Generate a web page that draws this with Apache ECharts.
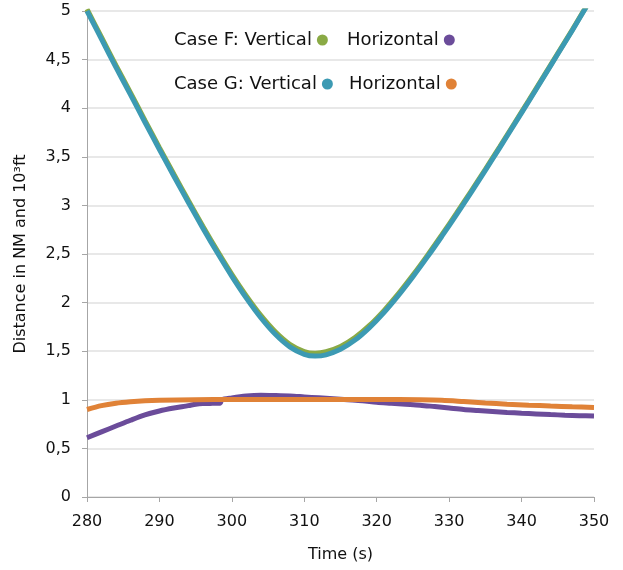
<!DOCTYPE html>
<html>
<head>
<meta charset="utf-8">
<script src="https://cdn.jsdelivr.net/npm/echarts@6/dist/echarts.min.js"></script>
<style>
  html, body { margin: 0; padding: 0; background: #fff; }
  #main { width: 623px; height: 570px; }
</style>
</head>
<body>
<div id="main"></div>
<script>
// time axis (s) for the vertical separation curves
const timeVertical = [280, 282, 284, 286, 288, 290, 292, 294, 296, 298, 300, 302, 304, 306, 308, 310, 311.5,
  313, 315, 317, 319, 321, 323, 325, 327, 329, 331, 333, 335, 337, 339, 341, 343, 345, 347, 349, 350];
const caseFVertical = [5.02, 4.73, 4.44, 4.16, 3.875, 3.595, 3.32, 3.05, 2.786, 2.532, 2.29, 2.068, 1.868, 1.70, 1.572, 1.497, 1.48,
  1.494, 1.548, 1.64, 1.765, 1.918, 2.092, 2.283, 2.486, 2.698, 2.917, 3.143, 3.372, 3.606, 3.843, 4.081, 4.322, 4.564, 4.806, 5.055, 5.17];
const caseGVertical = [5.00, 4.71, 4.42, 4.14, 3.855, 3.575, 3.30, 3.03, 2.766, 2.512, 2.27, 2.046, 1.844, 1.674, 1.545, 1.468, 1.45,
  1.463, 1.519, 1.614, 1.743, 1.898, 2.074, 2.266, 2.47, 2.683, 2.903, 3.13, 3.36, 3.595, 3.833, 4.072, 4.314, 4.557, 4.80, 5.05, 5.17];

// horizontal separation
const timeFHorizontal = [280, 282, 284, 286, 288, 290, 292, 294, 295, 296, 297, 298, 298.4, 298.6, 300, 302, 304, 306, 308, 310,
  312, 314, 316, 318, 320, 322, 324, 326, 328, 330, 332, 334, 336, 338, 340, 342, 344, 346, 348, 350];
const caseFHorizontal = [0.61, 0.67, 0.73, 0.79, 0.845, 0.885, 0.915, 0.94, 0.955, 0.962, 0.963, 0.964, 0.966, 1.0, 1.02, 1.04, 1.048, 1.045, 1.04, 1.03,
  1.02, 1.01, 1.0, 0.99, 0.975, 0.965, 0.955, 0.945, 0.93, 0.915, 0.9, 0.89, 0.88, 0.87, 0.862, 0.855, 0.848, 0.842, 0.837, 0.833];
const timeGHorizontal = [280, 282, 284, 286, 288, 290, 295, 300, 310, 320, 326, 329, 332, 335, 338, 341, 344, 347, 350];
const caseGHorizontal = [0.9, 0.94, 0.965, 0.98, 0.99, 0.995, 1.0, 1.003, 1.003, 1.003, 1.0, 0.995, 0.982, 0.968, 0.955, 0.945, 0.936, 0.928, 0.922];

const colors = { fv: '#8aaa45', fh: '#6b4c9a', gv: '#3c9ab3', gh: '#e08237' };
const legendText = {
  'Case F: Vertical': 'Case F: Vertical',
  'F Horizontal': 'Horizontal',
  'Case G: Vertical': 'Case G: Vertical',
  'G Horizontal': 'Horizontal'
};
const font = 'DejaVu Sans';

function pairs(xs, ys) {
  return xs.map((x, i) => [x, ys[i]]);
}

function line(name, xs, ys, color, z) {
  return {
    name: name,
    type: 'line',
    data: pairs(xs, ys),
    showSymbol: false,
    smooth: 0.3,
    z: z,
    color: color,
    lineStyle: { width: 5, color: color }
  };
}

const legendBase = {
  icon: 'circle',
  align: 'right',
  itemWidth: 11,
  itemHeight: 11,
  left: 169,
  textStyle: { fontFamily: font, fontSize: 18, color: '#111' },
  formatter: name => legendText[name]
};

const chart = echarts.init(document.getElementById('main'));
chart.setOption({
  animation: false,
  backgroundColor: '#fff',
  legend: [
    Object.assign({}, legendBase, { top: 26, itemGap: 19, data: ['Case F: Vertical', 'F Horizontal'] }),
    Object.assign({}, legendBase, { top: 70, itemGap: 16, data: ['Case G: Vertical', 'G Horizontal'] })
  ],
  grid: { left: 87, right: 29, top: 11, bottom: 73 },
  xAxis: {
    type: 'value',
    min: 280,
    max: 350,
    interval: 10,
    name: 'Time (s)',
    nameLocation: 'middle',
    nameGap: 50,
    nameTextStyle: { fontFamily: font, fontSize: 16, color: '#111' },
    axisLine: { lineStyle: { color: '#a6a6a6' } },
    axisTick: { show: true, length: 5, lineStyle: { color: '#a6a6a6' } },
    axisLabel: { fontFamily: font, fontSize: 16, color: '#111', margin: 17 },
    splitLine: { show: false }
  },
  yAxis: {
    type: 'value',
    min: 0,
    max: 5,
    interval: 0.5,
    name: 'Distance in NM and 10³ft',
    nameLocation: 'middle',
    nameGap: 58,
    nameTextStyle: { fontFamily: font, fontSize: 16, color: '#111' },
    axisLine: { show: true, lineStyle: { color: '#a6a6a6' } },
    axisTick: { show: true, length: 5, lineStyle: { color: '#a6a6a6' } },
    axisLabel: {
      fontFamily: font, fontSize: 16, color: '#111', margin: 16,
      formatter: v => String(v).replace('.', ',')
    },
    splitLine: { lineStyle: { color: '#e0e0e0', width: 1.5 } }
  },
  series: [
    line('Case F: Vertical', timeVertical, caseFVertical, colors.fv, 2),
    line('F Horizontal', timeFHorizontal, caseFHorizontal, colors.fh, 3),
    line('Case G: Vertical', timeVertical, caseGVertical, colors.gv, 4),
    line('G Horizontal', timeGHorizontal, caseGHorizontal, colors.gh, 5)
  ]
});
</script>
</body>
</html>
